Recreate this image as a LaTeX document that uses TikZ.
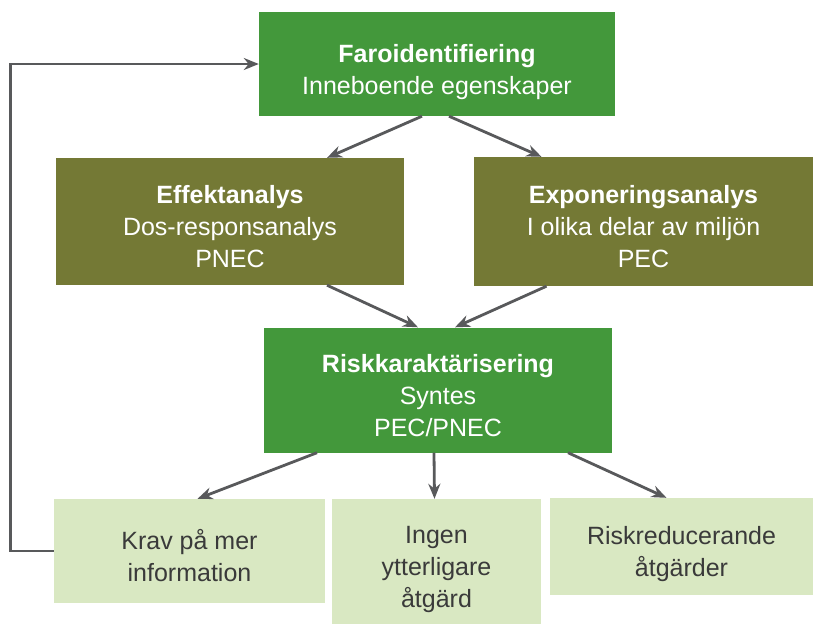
\documentclass[tikz,border=0pt]{standalone}
\usepackage{fontspec}
\setmainfont{Liberation Sans}
\usepackage{tikz}
\usetikzlibrary{arrows.meta}
\definecolor{FaroGreen}{HTML}{43983B}
\definecolor{AnalysOlive}{HTML}{747935}
\definecolor{UtfallLight}{HTML}{D9E8C2}
\definecolor{UtfallText}{HTML}{3A3A3A}
\definecolor{ArrowGrey}{HTML}{58595B}
\newcommand{\topstrut}{\rule{0pt}{28pt}}

\begin{document}
\begin{tikzpicture}[
	x=1pt, y=-1pt,
	box/.style={align=center, inner sep=0pt, text depth=0pt, font=\fontsize{25}{32}\selectfont},
	greenbox/.style={box, fill=FaroGreen, text=white},
	olivebox/.style={box, fill=AnalysOlive, text=white},
	lightbox/.style={box, fill=UtfallLight, text=UtfallText},
	arrow/.style={-{Stealth[length=15pt, width=12pt]}, draw=ArrowGrey, line width=2.8pt}
]
\useasboundingbox (0,0) rectangle (813,625);

\node[greenbox, minimum width=356pt, minimum height=104pt] (faro) at (437,64) {\topstrut\textbf{Faroidentifiering}\\Inneboende egenskaper};
\node[olivebox, minimum width=348pt, minimum height=127pt] (effekt) at (230,221.5) {\topstrut\textbf{Effektanalys}\\Dos-responsanalys\\PNEC};
\node[olivebox, minimum width=339pt, minimum height=129pt] (expo) at (643.5,221.5) {\topstrut\textbf{Exponeringsanalys}\\I olika delar av miljön\\PEC};
\node[greenbox, minimum width=348pt, minimum height=125pt] (risk) at (438,390) {\topstrut\textbf{Riskkaraktärisering}\\Syntes\\PEC/PNEC};
\node[lightbox, minimum width=271pt, minimum height=104pt] (krav) at (189.5,551) {\topstrut Krav på mer\\information};
\node[lightbox, minimum width=209pt, minimum height=125pt] (ingen) at (436.5,561.5) {\topstrut Ingen\\ytterligare\\åtgärd};
\node[lightbox, minimum width=263pt, minimum height=97pt] (atgarder) at (681.5,546.5) {\topstrut Riskreducerande\\åtgärder};

\draw[arrow] ([xshift=-15pt]faro.south) -- ([xshift=97pt]effekt.north);
\draw[arrow] ([xshift=12pt]faro.south) -- ([xshift=-102pt]expo.north);
\draw[arrow] ([xshift=97pt]effekt.south) -- ([xshift=-20pt]risk.north);
\draw[arrow] ([xshift=-97pt]expo.south) -- ([xshift=17pt]risk.north);
\draw[arrow] ([xshift=-121pt]risk.south) -- ([xshift=8pt]krav.north);
\draw[arrow] ([xshift=-4pt]risk.south) -- ([xshift=-2pt]ingen.north);
\draw[arrow] ([xshift=130pt]risk.south) -- ([xshift=-15pt]atgarder.north);
% tillbaka till faroidentifiering
\draw[arrow] (krav.west) -- ++(-43,0) |- (faro.west);
\end{tikzpicture}
\end{document}
